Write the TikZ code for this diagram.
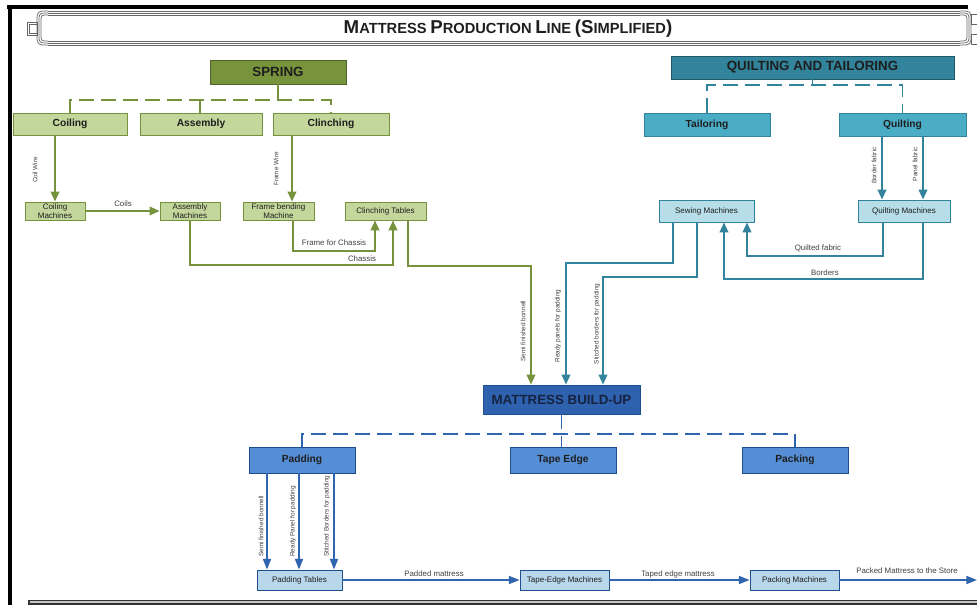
\documentclass[tikz,border=0pt]{standalone}
\usepackage{fontspec}
\setmainfont{Liberation Sans}
\usetikzlibrary{arrows.meta}
\definecolor{gdark}{HTML}{77933C}
\definecolor{gline}{HTML}{76923C}
\definecolor{gborder}{HTML}{4F6228}
\definecolor{glight}{HTML}{C3D69B}
\definecolor{tdark}{HTML}{31849B}
\definecolor{tmid}{HTML}{4BACC6}
\definecolor{tlight}{HTML}{B7DEE8}
\definecolor{tborder}{HTML}{215968}
\definecolor{bdark}{HTML}{2E62AE}
\definecolor{bmid}{HTML}{558ED5}
\definecolor{blight}{HTML}{B9D7EA}
\definecolor{bborder}{HTML}{1F4E8C}
\definecolor{bline}{HTML}{2F64AE}
\definecolor{txt}{HTML}{1E1E1E}
\definecolor{navytxt}{HTML}{16223F}
\newcommand\tscap[2]{{\fontsize{14}{15}\selectfont #1}{\fontsize{11}{12}\selectfont #2}}
\tikzset{
  x=0.75pt, y=-0.75pt,
  basebox/.style={draw, rectangle, inner sep=0pt, align=center, text=txt, line width=0.7pt},
  sz/.style 2 args={minimum width=#1*0.75pt, minimum height=#2*0.75pt},
  lvlone/.style={basebox, font=\fontsize{10}{12}\selectfont\bfseries},
  lvltwo/.style={basebox, font=\fontsize{7.7}{9}\selectfont\bfseries},
  machbox/.style={basebox, font=\fontsize{6}{6.6}\selectfont},
  lbl/.style={font=\fontsize{5.9}{7}\selectfont, text=txt!85, inner sep=0pt},
  rlbl/.style={font=\fontsize{4.8}{6}\selectfont, text=txt!85, inner sep=0pt, rotate=90},
  garr/.style={draw=gline, line width=1.5pt, -{Triangle[length=7.5pt,width=6.5pt]}},
  tarr/.style={draw=tdark, line width=1.5pt, -{Triangle[length=7.5pt,width=6.5pt]}},
  barr/.style={draw=bline, line width=1.3pt, -{Triangle[length=8pt,width=6pt]}},
  gdash/.style={draw=gline, line width=1.4pt, dash pattern=on 11pt off 5.5pt},
  tdash/.style={draw=tdark, line width=1.4pt, dash pattern=on 11pt off 5.5pt},
  bdash/.style={draw=bline, line width=1.4pt, dash pattern=on 11pt off 5.5pt},
}
\begin{document}
\begin{tikzpicture}
\useasboundingbox (0,0) rectangle (977,605);
% frame
\fill[black] (7,5) rectangle (968,9);
\fill[black] (8,5) rectangle (12,605);
\fill[black!80] (28,600) rectangle (977,605);
\fill[gray!45] (30,601.3) rectangle (977,603);
% banner
\foreach \d in {0,2,4} {
  \draw[black!60, line width=0.55pt] (48,11+\d) -- (960,11+\d);
  \draw[black!60, line width=0.55pt] (48,45-\d) -- (960,45-\d);
  \draw[black!60, line width=0.55pt] (48,11+\d) .. controls (37+\d,11+\d) .. (37+\d,22) -- (37+\d,34) .. controls (37+\d,45-\d) .. (48,45-\d);
  \draw[black!60, line width=0.55pt] (960,11+\d) .. controls (971-\d,11+\d) .. (971-\d,22) -- (971-\d,34) .. controls (971-\d,45-\d) .. (960,45-\d);
}
\draw[black!60, line width=0.55pt] (27,22) rectangle (37,35);
\draw[black!60, line width=0.55pt] (29.5,24) rectangle (37,33);
\draw[black!60, line width=0.55pt] (971,14) rectangle (977,24);
\draw[black!60, line width=0.55pt] (971,34) rectangle (977,44);
\node[font=\bfseries, text=txt, inner sep=0pt] (title) at (508,29)
  {\tscap{M}{ATTRESS} \tscap{P}{RODUCTION} \tscap{L}{INE} \tscap{(S}{IMPLIFIED}\tscap{)}{}};

% ---------- SPRING ----------
\node[lvlone, fill=gdark, draw=gborder, sz={136}{24}] (spring) at (278,72) {SPRING};
\node[lvltwo, fill=glight, draw=gline, sz={114}{22}] (coiling) at (70,124) {Coiling};
\node[lvltwo, fill=glight, draw=gline, sz={122}{22}] (assembly) at (201,124) {Assembly};
\node[lvltwo, fill=glight, draw=gline, sz={116}{22}] (clinching) at (331,124) {Clinching};
\node[machbox, fill=glight, draw=gline, sz={60}{18}] (cm) at (55,211) {Coiling\\Machines};
\node[machbox, fill=glight, draw=gline, sz={60}{18}] (am) at (190,211) {Assembly\\Machines};
\node[machbox, fill=glight, draw=gline, sz={71}{18}] (fbm) at (278.5,211) {Frame bending\\Machine};
\node[machbox, fill=glight, draw=gline, sz={81}{18}] (ct) at (385.5,211) {Clinching Tables};

\draw[gdash] (spring.south) -- (spring.south |- 0,100);
\draw[gdash] (coiling.north) -- (70,100) -- (331,100) -- (clinching.north);
\draw[gdash] (assembly.north -| 200,0) -- (200,100);

\draw[garr] (coiling.south -| cm.north) -- (cm.north);
\draw[garr] (cm.east) -- (am.west);
\draw[garr] (clinching.south -| 292,0) -- (fbm.north -| 292,0);
\draw[garr] (fbm.south -| 293,0) -- (293,251) -- (375,251) -- (ct.south -| 375,0);
\draw[garr] (am.south) -- (190,265) -- (393,265) -- (ct.south -| 393,0);

\node[rlbl] at (35,170) {Coil Wire};
\node[rlbl] at (276,169) {Frame Wire};
\node[lbl] at (123,204) {Coils};
\node[lbl] at (334,243) {Frame for Chassis};
\node[lbl] at (362,259) {Chassis};

% ---------- QUILTING ----------
\node[lvlone, fill=tdark, draw=tborder, sz={283}{23}] (qt) at (812.5,67.5) {QUILTING AND TAILORING};
\node[lvltwo, fill=tmid, draw=tdark, sz={126}{23}] (tail) at (707,124.5) {Tailoring};
\node[lvltwo, fill=tmid, draw=tdark, sz={127}{23}] (quilt) at (902.5,124.5) {Quilting};
\node[machbox, fill=tlight, draw=tdark, sz={95}{22}] (sew) at (706.5,211) {Sewing Machines};
\node[machbox, fill=tlight, draw=tdark, sz={92}{22}] (qm) at (904,211) {Quilting Machines};

\draw[tdash] (qt.south) -- (qt.south |- 0,85);
\draw[tdash] (tail.north) -- (tail.north |- 0,85) -- (quilt.north |- 0,85) -- (quilt.north);

\draw[tarr] (quilt.south -| 882,0) -- (qm.north -| 882,0);
\draw[tarr] (quilt.south -| 923,0) -- (qm.north -| 923,0);
\draw[tarr] (qm.south -| 883,0) -- (883,256) -- (747,256) -- (sew.south -| 747,0);
\draw[tarr] (qm.south -| 923,0) -- (923,279) -- (724,279) -- (sew.south -| 724,0);

\node[rlbl, anchor=east] at (874,147) {Border fabric};
\node[rlbl, anchor=east] at (915,147) {Panel fabric};
\node[lbl] at (818,248) {Quilted fabric};
\node[lbl] at (825,273) {Borders};

% ---------- BUILD-UP ----------
\node[lvlone, fill=bdark, draw=bborder, text=navytxt, sz={157}{29}] (mbu) at (561.5,399.5) {MATTRESS BUILD-UP};
\draw[garr] (ct.south -| 408,0) -- (408,266) -- (531,266) -- (mbu.north -| 531,0);
\draw[tarr] (sew.south -| 673,0) -- (673,263) -- (566,263) -- (mbu.north -| 566,0);
\draw[tarr] (sew.south -| 697,0) -- (697,277) -- (603,277) -- (mbu.north -| 603,0);
\node[rlbl] at (523,331) {Semi finished bonnell};
\node[rlbl] at (558,326) {Ready panels for padding};
\node[rlbl] at (597,324) {Stitched borders for padding};

\node[lvltwo, fill=bmid, draw=bborder, sz={106}{26}] (pad) at (302,460) {Padding};
\node[lvltwo, fill=bmid, draw=bborder, sz={106}{26}] (tape) at (563,460) {Tape Edge};
\node[lvltwo, fill=bmid, draw=bborder, sz={106}{26}] (pack) at (795,460) {Packing};
\node[machbox, fill=blight, draw=bborder, sz={85}{20}] (ptab) at (299.5,580) {Padding Tables};
\node[machbox, fill=blight, draw=bborder, sz={89}{20}] (tem) at (564.5,580) {Tape-Edge Machines};
\node[machbox, fill=blight, draw=bborder, sz={89}{20}] (pm) at (794.5,580) {Packing Machines};
\coordinate (store) at (977,580);

\draw[bdash] (mbu.south) -- (tape.north -| mbu.south);
\draw[bdash] (pad.north) -- (pad.north |- 0,434) -- (pack.north |- 0,434) -- (pack.north);

\draw[barr] (pad.south -| 267,0) -- (ptab.north -| 267,0);
\draw[barr] (pad.south -| 299,0) -- (ptab.north -| 299,0);
\draw[barr] (pad.south -| 334,0) -- (ptab.north -| 334,0);
\draw[barr] (ptab.east) -- (tem.west);
\draw[barr] (tem.east) -- (pm.west);
\draw[barr] (pm.east) -- (store);

\node[rlbl, anchor=west] at (261,557) {Semi finished bonnell};
\node[rlbl, anchor=west] at (293,557) {Ready Panel for padding};
\node[rlbl, anchor=west] at (327,557) {Stitched Borders for padding};
\node[lbl] at (434,574) {Padded mattress};
\node[lbl] at (678,574) {Taped edge mattress};
\node[lbl] at (907,571) {Packed Mattress to the Store};
\end{tikzpicture}
\end{document}
